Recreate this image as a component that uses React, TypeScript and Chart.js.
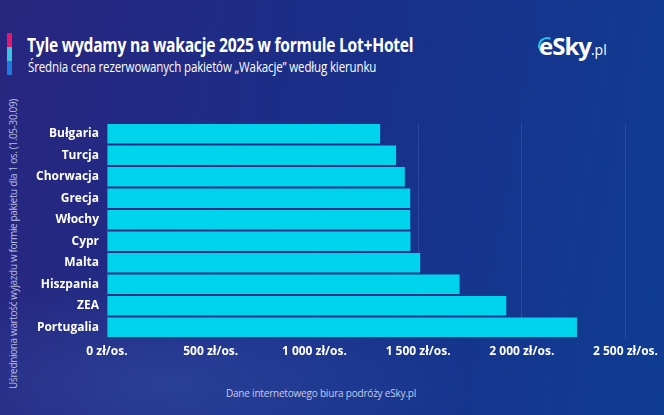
import React, { useEffect, useRef } from "react";
import { Chart, registerables } from "chart.js";

Chart.register(...registerables);

const categories = ["Bułgaria", "Turcja", "Chorwacja", "Grecja", "Włochy", "Cypr", "Malta", "Hiszpania", "ZEA", "Portugalia"];
const values = [1317, 1394, 1436, 1462, 1462, 1463, 1510, 1700, 1925, 2266];
const xMax = 2500;
const xStep = 500;

const title = "Tyle wydamy na wakacje 2025 w formule Lot+Hotel";
const subtitle = "Średnia cena rezerwowanych pakietów „Wakacje” według kierunku";
const yTitle = "Uśredniona wartość wyjazdu w formie pakietu dla 1 os. (1.05-30.09)";
const footer = "Dane internetowego biura podróży eSky.pl";

const fmt = (v: number) => String(v).replace(/\B(?=(\d{3})+(?!\d))/g, " ") + " zł/os.";

const FONT = "'Open Sans', 'Noto Sans', sans-serif";

export default function App() {
  const ref = useRef<HTMLCanvasElement | null>(null);
  useEffect(() => {
    if (!ref.current) return;
    const chart = new Chart(ref.current, {
      type: "bar",
      data: {
        labels: categories,
        datasets: [
          {
            data: values,
            backgroundColor: "#00d3ec",
            borderWidth: 0,
            barPercentage: 0.9,
            categoryPercentage: 1,
          },
        ],
      },
      options: {
        indexAxis: "y",
        animation: false,
        responsive: false,
        layout: { padding: { left: 0, right: 38, top: 123, bottom: 47 } },
        plugins: { legend: { display: false }, tooltip: { enabled: false } },
        scales: {
          x: {
            min: 0,
            max: xMax,
            ticks: {
              stepSize: xStep,
              color: "#ffffff",
              font: { family: FONT, size: 12, weight: "bold" },
              padding: 6,
              callback: (v: any) => fmt(Number(v)),
            },
            grid: { color: "rgba(190,210,255,0.13)", drawTicks: false },
            border: { display: false },
            afterFit: (s: any) => {
              s.height = 30;
            },
          },
          y: {
            ticks: {
              color: "#ffffff",
              font: { family: FONT, size: 12, weight: "bold" },
              padding: 8,
            },
            grid: { display: false, drawTicks: false },
            border: { display: false },
            afterFit: (s: any) => {
              s.width = 107;
            },
          },
        },
      },
    });
    return () => chart.destroy();
  }, []);

  return (
    <div
      style={{
        position: "fixed",
        left: 0,
        top: 0,
        width: 664,
        height: 415,
        overflow: "hidden",
        background:
          "radial-gradient(ellipse 300px 110px at 170px 385px, rgba(70,110,190,0.3), rgba(0,0,0,0) 100%), linear-gradient(100deg, #28267f 0%, #1b2e88 45%, #0f3d93 100%)",
        fontFamily: FONT,
      }}
    >
      <div style={{ position: "absolute", left: 7, top: 33, width: 5, height: 14, background: "#e3176d" }} />
      <div style={{ position: "absolute", left: 7, top: 47, width: 5, height: 14, background: "#3cc3e0" }} />
      <div style={{ position: "absolute", left: 7, top: 61, width: 5, height: 14, background: "#1c7ae3" }} />
      <div
        style={{
          position: "absolute",
          left: 27,
          top: 33,
          color: "#fff",
          fontWeight: 700,
          fontSize: 20,
          lineHeight: "24px",
          whiteSpace: "nowrap",
          letterSpacing: -0.3,
          transform: "scaleX(0.78)",
          transformOrigin: "0 0",
        }}
      >
        {title}
      </div>
      <div
        style={{
          position: "absolute",
          left: 28,
          top: 56,
          color: "#fff",
          fontSize: 15,
          lineHeight: "20px",
          whiteSpace: "nowrap",
          letterSpacing: -0.2,
          transform: "scaleX(0.77)",
          transformOrigin: "0 0",
        }}
      >
        {subtitle}
      </div>
      <div
        style={{
          position: "absolute",
          left: 538,
          top: 37,
          width: 14,
          height: 14,
          borderRadius: "50%",
          borderTop: "2.5px solid #28c3ec",
          borderLeft: "2.5px solid #28c3ec",
          borderRight: "2.5px solid transparent",
          borderBottom: "2.5px solid transparent",
          transform: "rotate(-20deg)",
        }}
      />
      <div
        style={{
          position: "absolute",
          left: 539,
          top: 31,
          color: "#fff",
          fontWeight: 700,
          fontSize: 24,
          lineHeight: "30px",
          whiteSpace: "nowrap",
          letterSpacing: -1,
        }}
      >
        eSky<span style={{ fontSize: 14, fontWeight: 400, letterSpacing: 0 }}>.pl</span>
      </div>
      <div
        style={{
          position: "absolute",
          left: 13 - 160,
          top: 244 - 8,
          width: 320,
          height: 16,
          lineHeight: "16px",
          textAlign: "center",
          color: "#b4bde2",
          fontSize: 10,
          letterSpacing: -0.35,
          whiteSpace: "nowrap",
          transform: "rotate(-90deg)",
          transformOrigin: "50% 50%",
        }}
      >
        {yTitle}
      </div>
      <div
        style={{
          position: "absolute",
          left: 0,
          width: 664,
          top: 386,
          textAlign: "center",
          color: "#c5cde8",
          fontSize: 10,
          lineHeight: "14px",
          paddingRight: 22,
          boxSizing: "border-box",
          letterSpacing: -0.2,
        }}
      >
        {footer}
      </div>
      <canvas ref={ref} width={664} height={415} style={{ position: "absolute", left: 0, top: 0 }} />
    </div>
  );
}
